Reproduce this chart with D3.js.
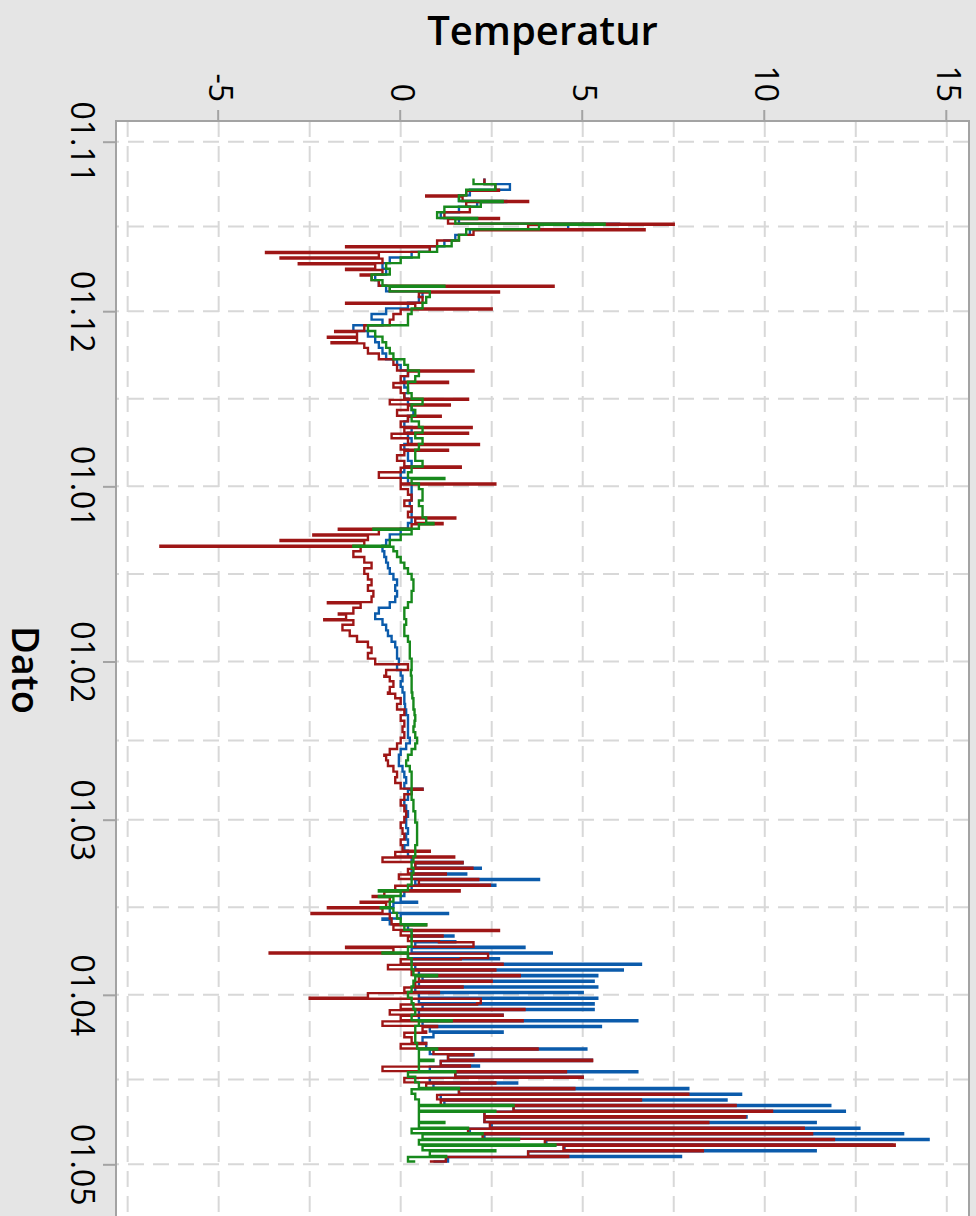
<!DOCTYPE html>
<html><head><meta charset="utf-8">
<script src="https://cdnjs.cloudflare.com/ajax/libs/d3/7.8.5/d3.min.js"></script>
<style>html,body{margin:0;padding:0;background:#e5e5e5;} svg{display:block;}</style>
</head><body>
<svg id="chart" width="976" height="1216"></svg>
<script>
// ---------------- data ----------------
const seasonStart = "2018-11-01";          // day index 0
const firstDay = 6;                         // first daily value = day index 6 (7 Nov)
const monthTicks = ["2018-11-01","2018-12-01","2019-01-01","2019-02-01","2019-03-01","2019-04-01","2019-05-01"];
const tempTicks = [-5, 0, 5, 10, 15];
const tempGrid = [-7.5, -5, -2.5, 0, 2.5, 5, 7.5, 10, 12.5, 15];

// daily temperatures, day index 6 .. 180
const greenTemp = [
  2.0, 2.6, 1.8, 1.6, 2.2, 1.2, 1.0, 1.5, 3.8, 1.8,
  1.6, 1.4, 1.0, 0.5, 0.0, -0.4, -0.3, -0.8, -0.5, -0.3,
  0.8, 0.7, 0.6, 0.3, 0.2, 0.2, -0.9, -0.7, -0.5, -0.4,
  -0.3, -0.2, 0.1, 0.2, 0.5, 0.4, 0.2, 0.2, 0.3, 0.6,
  0.3, 0.4, 0.3, 0.5, 0.6, 0.4, 0.6, 0.5, 0.4, 0.4,
  0.6, 0.3, 0.2, 0.3, 0.5, 0.6, 0.6, 0.5, 0.6, 0.6,
  0.7, 0.5, 0.3, 0.0, -0.3, -0.2, -0.1, 0.0, 0.1, 0.2,
  0.3, 0.35, 0.35, 0.3, 0.3, 0.2, 0.1, 0.1, 0.15, 0.1,
  0.1, 0.2, 0.25, 0.25, 0.25, 0.3, 0.3, 0.28, 0.3, 0.3,
  0.3, 0.32, 0.35, 0.35, 0.38, 0.4, 0.38, 0.35, 0.4, 0.45,
  0.4, 0.3, 0.2, 0.15, 0.25, 0.3, 0.3, 0.3, 0.3, 0.3,
  0.35, 0.35, 0.4, 0.4, 0.45, 0.45, 0.45, 0.45, 0.4, 0.4,
  0.35, 0.3, 0.35, 0.3, 0.3, 0.2, 0.0, -0.2, -0.3, -0.2,
  -0.1, 0.0, 0.1, 0.3, 0.3, 0.3, 0.2, 0.2, 0.3, 0.3,
  0.35, 0.4, 0.35, 0.3, 0.2, 0.3, 0.35, 0.4, 0.3, 0.5,
  0.4, 0.4, 0.4, 0.45, 0.5, 0.5, 0.5, 0.5, 0.2, 0.4,
  0.5, 0.3, 0.4, 0.5, 0.5, 0.5, 0.5, 0.5, 0.3, 0.6,
  0.5, 0.6, 0.8, 0.2, 0.4
];
const blueTemp = [
  2.3, 3.0, 1.9, 1.6, 2.1, 1.6, 1.1, 1.6, 4.6, 1.9,
  1.5, 1.2, 0.8, 0.3, -0.3, -0.5, -0.4, -0.7, -0.6, -0.4,
  0.6, 0.5, 0.2, -0.4, -0.8, -0.5, -1.3, -0.9, -0.7, -0.6,
  -0.5, -0.4, -0.1, 0.0, 0.2, 0.1, 0.1, 0.2, 0.1, 0.2,
  0.3, 0.35, 0.2, 0.1, 0.3, 0.2, 0.3, 0.1, 0.2, 0.2,
  0.3, 0.1, 0.0, 0.2, 0.3, 0.3, 0.3, 0.25, 0.3, 0.3,
  0.3, 0.2, 0.0, -0.3, -0.4, -0.5, -0.45, -0.4, -0.35, -0.3,
  -0.2, -0.1, -0.15, -0.1, -0.15, -0.3, -0.6, -0.7, -0.5, -0.4,
  -0.35, -0.25, -0.15, -0.1, -0.1, -0.05, -0.1, 0.0, 0.05, 0.0,
  0.05, 0.1, 0.1, 0.12, 0.15, 0.2, 0.2, 0.2, 0.2, 0.25,
  0.15, 0.0, -0.05, -0.05, 0.05, 0.1, 0.15, 0.1, 0.2, 0.2,
  0.1, 0.15, 0.2, 0.15, 0.15, 0.2, 0.15, 0.2, 0.1, 0.2,
  0.3, 0.4, 0.3, 0.3, 0.4, 0.3, 0.1, 0.0, -0.2, -0.3,
  0.0, -0.3, 0.2, 0.3, 0.3, 0.4, 0.3, 0.2, 0.3, 0.4,
  0.5, 0.6, 0.5, 0.4, 0.5, 0.5, 0.6, 0.5, 0.5, 0.6,
  0.8, 0.9, 0.6, 0.7, 0.8, 1.3, 1.1, 0.8, 1.5, 0.8,
  0.9, 1.6, 1.1, 1.2, 3.1, 2.3, 2.3, 2.5, 1.9, 2.3,
  4.0, 4.5, 3.5, 1.3, 0.9
];
const redTemp = [
  2.3, 2.6, 1.8, 1.7, 1.8, 1.9, 1.2, 1.3, 3.5, 2.0,
  1.6, 1.0, 0.8, -0.6, -0.5, -0.7, -0.5, -0.8, -0.6, -0.3,
  0.5, 0.6, 0.4, 0.0, -0.2, -0.3, -1.0, -1.2, -1.2, -1.0,
  -0.9, -0.6, -0.2, -0.1, 0.2, 0.0, -0.2, 0.0, 0.1, -0.3,
  0.2, -0.1, 0.2, 0.0, 0.1, -0.25, 0.2, 0.0, 0.1, -0.1,
  0.1, 0.0, -0.6, 0.0, 0.0, 0.2, 0.3, 0.1, 0.3, 0.2,
  0.4, 0.3, -0.6, -0.9, -1.0, -1.1, -1.3, -1.0, -0.8, -1.0,
  -0.9, -0.8, -0.9, -0.75, -0.8, -1.1, -1.3, -1.5, -1.3, -1.6,
  -1.4, -1.2, -0.9, -0.8, -0.9, -0.7, 0.2, -0.4, -0.3, -0.2,
  -0.3, -0.15, 0.0, -0.1, 0.1, 0.0, 0.1, 0.05, 0.1, 0.0,
  -0.1, -0.3, -0.4, -0.35, -0.2, -0.1, -0.15, 0.0, 0.3, 0.1,
  0.0, 0.1, 0.15, 0.1, 0.0, 0.05, 0.1, 0.0, 0.05, -0.15,
  -0.5, 0.4, 0.2, -0.05, 0.5, -0.15, -0.45, -0.3, -0.4, -0.5,
  -0.3, -0.25, -0.2, 0.0, 0.2, 2.0, -0.2, 2.4, 0.0, -0.35,
  0.3, 0.5, 0.4, 0.1, -0.9, 2.2, 0.0, -0.3, 0.0, -0.5,
  0.6, 0.1, 0.3, 0.0, 0.9, 1.3, 1.1, -0.5, 1.5, 0.1,
  0.7, 1.6, 1.0, 1.1, 3.1, 2.3, 2.3, 2.45, 1.85, 2.25,
  3.96, 4.47, 3.5, 1.24, 0.8
];

// short daily extremes: [day index, temperature]
const greenPeaks = [[10,2.8],[13,2.1],[14,5.6],[25,1.2],[59,1.2],[67,0.9],[68,-0.75],[71,-1.3],
  [132,-0.6],[133,-0.6],[135,-0.55],[138,0.7],[143,-0.5],[147,1.0],[155,1.4],[160,1.0],[162,0.9],
  [164,1.5],[167,1.6],[170,3.1],[171,2.6],[173,1.2],[174,1.85],[175,2.25],[176,3.25],[177,4.25],
  [178,2.6],[179,1.25]];
const bluePeaks = [[10,2.9],[14,6.0],[114,0.6],[127,1.7],[128,2.2],[129,1.8],[130,3.8],[131,2.6],
  [134,0.45],[136,1.3],[137,-0.5],[140,1.45],[141,1.5],[142,3.4],[143,4.15],[144,2.7],[145,6.6],
  [146,6.1],[147,5.4],[148,5.3],[149,5.4],[150,5.0],[151,5.4],[152,5.3],[153,5.3],[154,2.8],
  [155,6.5],[156,5.5],[157,2.8],[160,5.1],[161,2.0],[162,5.25],[163,2.15],[164,6.5],[165,5.0],
  [166,3.2],[167,7.9],[168,9.35],[169,8.95],[170,11.8],[171,12.2],[172,9.5],[173,11.4],[174,12.6],
  [175,13.8],[176,14.5],[177,13.5],[178,11.4],[179,7.7]];
const redPeaks = [[8,2.7],[9,0.7],[10,3.5],[13,2.7],[14,7.5],[15,6.7],[18,-1.5],[19,-3.7],[20,-3.3],
  [21,-2.8],[22,-1.5],[23,-1.1],[25,4.2],[26,2.7],[28,-1.5],[29,2.5],[33,-1.8],[34,-2.0],[35,-1.9],
  [40,2.0],[42,1.3],[45,1.85],[46,1.35],[48,1.1],[50,1.95],[51,1.85],[53,2.15],[54,1.3],[57,1.65],
  [60,2.6],[66,1.5],[67,1.15],[68,-1.7],[69,-2.4],[70,-3.3],[71,-6.6],[81,-2.0],[83,-1.7],[84,-2.1],
  [94,-0.45],[97,-0.35],[108,-0.45],[114,0.6],[125,0.8],[126,1.47],[127,1.7],[128,1.97],[129,1.24],
  [130,2.13],[131,2.45],[132,1.62],[133,-0.77],[134,-1.1],[135,-2.0],[136,-2.45],[138,0.7],[139,2.7],
  [140,1.15],[141,1.05],[142,-1.5],[143,-3.6],[144,1.65],[145,2.8],[146,2.6],[147,3.27],[148,2.5],
  [149,1.7],[150,1.05],[151,-2.5],[152,2.1],[153,3.4],[154,2.8],[155,3.35],[156,1.0],[157,0.7],
  [159,0.7],[160,3.76],[161,1.97],[162,5.26],[163,1.9],[164,4.54],[165,5.0],[166,2.6],[167,4.77],
  [168,7.9],[169,6.6],[170,9.2],[171,10.2],[172,9.46],[173,8.45],[174,11.07],[175,11.3],[176,11.9],
  [177,13.57],[178,8.3],[179,4.6]];

const seriesColors = {blue: "#0b5bab", red: "#9e1616", green: "#17891c"};

// ---------------- chart ----------------
const W = 976, H = 1216;
const dayMs = 86400000;
const parse = d3.utcParse("%Y-%m-%d");
const t0 = parse(seasonStart).getTime();
const dayToDate = d => new Date(t0 + d * dayMs);

// chart is drawn in an unrotated frame (1216 wide x 976 high) and turned 90° clockwise
const plot = {left: 121, right: 1218, top: 7, bottom: 860};
const x = d3.scaleUtc().domain([dayToDate(-3.664), dayToDate(190.5)]).range([plot.left, plot.right]);
const y = d3.scaleLinear().domain([-7.82, 15.61]).range([plot.bottom, plot.top]);

const svg = d3.select("#chart");
svg.append("rect").attr("width", W).attr("height", H).attr("fill", "#e5e5e5");
const g = svg.append("g").attr("transform", `translate(${W},0) rotate(90)`);

g.append("rect").attr("x", plot.left).attr("y", plot.top)
  .attr("width", plot.right - plot.left).attr("height", plot.bottom - plot.top).attr("fill", "#fff");

g.append("defs").append("clipPath").attr("id", "clip").append("rect")
  .attr("x", plot.left).attr("y", plot.top)
  .attr("width", plot.right - plot.left).attr("height", plot.bottom - plot.top);

// grid
const monthDates = monthTicks.map(parse);
const midDates = d3.pairs(monthDates).map(([a, b]) => new Date((a.getTime() + b.getTime()) / 2));
const gridCol = "#d8d8d8";
const grid = g.append("g").attr("stroke", gridCol).attr("stroke-width", 2).attr("stroke-dasharray", "16,9");
grid.selectAll("line.v").data(monthDates.concat(midDates)).join("line")
  .attr("x1", d => x(d)).attr("x2", d => x(d)).attr("y1", plot.top).attr("y2", plot.bottom);
grid.selectAll("line.h").data(tempGrid).join("line")
  .attr("x1", plot.left).attr("x2", plot.right).attr("y1", d => y(d)).attr("y2", d => y(d));

// series
function buildPoints(vals, peaks) {
  const pk = new Map(peaks.map(p => [p[0], p[1]]));
  const pts = [];
  vals.forEach((v, j) => {
    const day = firstDay + j;
    const t = day + 0.5;
    if (pk.has(day)) {
      pts.push({date: dayToDate(t), temp: pk.get(day)});
      pts.push({date: dayToDate(t + 0.2), temp: v});
    } else {
      pts.push({date: dayToDate(t), temp: v});
    }
  });
  return pts;
}
const line = d3.line().x(p => x(p.date)).y(p => y(p.temp)).curve(d3.curveStepAfter);
const series = [
  {name: "blue", vals: blueTemp, peaks: bluePeaks},
  {name: "red", vals: redTemp, peaks: redPeaks},
  {name: "green", vals: greenTemp, peaks: greenPeaks}
];
const lines = g.append("g").attr("clip-path", "url(#clip)");
series.forEach(s => {
  lines.append("path").datum(buildPoints(s.vals, s.peaks))
    .attr("fill", "none").attr("stroke", seriesColors[s.name])
    .attr("stroke-width", 2.4).attr("stroke-linejoin", "miter").attr("d", line);
});

// frame
const frameCol = "#a3a3a3";
const frame = g.append("g").attr("stroke", frameCol).attr("stroke-width", 2);
frame.append("line").attr("x1", plot.left).attr("x2", plot.left).attr("y1", plot.top - 1).attr("y2", plot.bottom + 1);
frame.append("line").attr("x1", plot.left).attr("x2", plot.right).attr("y1", plot.bottom).attr("y2", plot.bottom);
frame.append("line").attr("x1", plot.left).attr("x2", plot.right).attr("y1", plot.top).attr("y2", plot.top);

const tickFont = "'Open Sans', 'Noto Sans', sans-serif";

// temperature axis
const yAxis = g.append("g").attr("transform", `translate(${plot.left},0)`)
  .call(d3.axisLeft(y).tickValues(tempTicks).tickFormat(d => String(d)).tickSize(11).tickPadding(8));
yAxis.select(".domain").remove();
yAxis.selectAll(".tick line").attr("stroke", frameCol).attr("stroke-width", 2);
yAxis.selectAll(".tick text").attr("fill", "#000").style("font-family", tickFont).style("font-size", "32px")
  .attr("dy", "0.3em");

// date axis
const xAxis = g.append("g").attr("transform", `translate(0,${plot.bottom})`)
  .call(d3.axisBottom(x).tickValues(monthDates).tickFormat(d3.utcFormat("%d.%m")).tickSize(13).tickPadding(9));
xAxis.select(".domain").remove();
xAxis.selectAll(".tick line").attr("stroke", frameCol).attr("stroke-width", 2);
xAxis.selectAll(".tick text").attr("fill", "#000").style("font-family", tickFont).style("font-size", "32px");

// axis titles
const titleFont = "'Open Sans', 'Noto Sans', sans-serif";
g.append("text").attr("transform", `translate(45,${(plot.top + plot.bottom) / 2}) rotate(-90)`)
  .attr("text-anchor", "middle").style("font-family", titleFont).style("font-weight", 600)
  .style("font-size", "40px").attr("fill", "#000").text("Temperatur");
g.append("text").attr("x", 670).attr("y", 964)
  .attr("text-anchor", "middle").style("font-family", titleFont).style("font-weight", 600)
  .style("font-size", "38px").attr("fill", "#000").text("Dato");
</script>
</body></html>
